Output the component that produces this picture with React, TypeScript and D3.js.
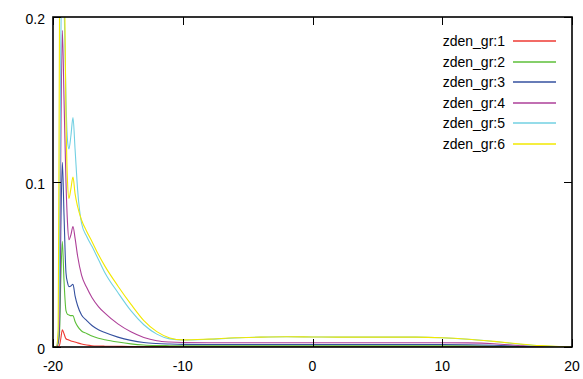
import * as d3 from 'd3';
import React, { useRef, useEffect } from 'react';

// shared z grid for every series
const zGrid = [-20, -19.75, -19.6, -19.5, -19.4, -19.28, -19.15, -19.0, -18.88, -18.77, -18.62, -18.46, -18.3, -18.1, -17.8, -17.4, -17.0, -16.5, -16, -15, -14, -13, -12, -11, -10, -8, -6, -4, -2, 0, 2, 4, 6, 8, 10, 12, 14, 16, 17, 18, 19, 20];

const gr1 = [0, 0, 0.0003, 0.001, 0.005, 0.0105, 0.008, 0.005, 0.0045, 0.0042, 0.0037, 0.0033, 0.003, 0.0025, 0.0018, 0.0012, 0.0008, 0.0006, 0.0005, 0.0004, 0.0003, 0.0003, 0.0003, 0.0003, 0.0003, 0.0003, 0.0003, 0.0003, 0.0003, 0.0003, 0.0003, 0.0003, 0.0003, 0.0003, 0.0003, 0.0003, 0.0002, 0.0001, 0.0001, 0, 0, 0];
const gr2 = [0, 0, 0.002, 0.008, 0.04, 0.064, 0.04, 0.022, 0.0198, 0.0194, 0.019, 0.019, 0.0155, 0.0125, 0.0097, 0.0082, 0.0066, 0.0053, 0.0044, 0.003, 0.0019, 0.0012, 0.0009, 0.0008, 0.0007, 0.0007, 0.0007, 0.0007, 0.0007, 0.0007, 0.0007, 0.0007, 0.0007, 0.0007, 0.0007, 0.0007, 0.0005, 0.0003, 0.0002, 0.0001, 0, 0];
const gr3 = [0, 0, 0.003, 0.012, 0.07, 0.112, 0.08, 0.045, 0.039, 0.0366, 0.037, 0.038, 0.031, 0.025, 0.0194, 0.016, 0.013, 0.0105, 0.0088, 0.006, 0.004, 0.0027, 0.0021, 0.0018, 0.0016, 0.0015, 0.0015, 0.0015, 0.0015, 0.0015, 0.0015, 0.0015, 0.0015, 0.0015, 0.0015, 0.0014, 0.0011, 0.0005, 0.0003, 0.0001, 0, 0];
const gr4 = [0, 0, 0.005, 0.02, 0.12, 0.192, 0.15, 0.1, 0.075, 0.065, 0.068, 0.073, 0.066, 0.055, 0.0436, 0.036, 0.03, 0.0245, 0.0205, 0.014, 0.0092, 0.0058, 0.0038, 0.003, 0.0027, 0.0026, 0.0026, 0.0026, 0.0026, 0.0026, 0.0026, 0.0026, 0.0026, 0.0026, 0.0026, 0.0025, 0.002, 0.0008, 0.0003, 0.0001, 0, 0];
const gr5 = [0, 0, 0.008, 0.05, 0.18, 0.23, 0.21, 0.15, 0.125, 0.12, 0.128, 0.139, 0.12, 0.095, 0.075, 0.067, 0.061, 0.053, 0.045, 0.033, 0.022, 0.0135, 0.0078, 0.0049, 0.0042, 0.0047, 0.0055, 0.006, 0.0062, 0.0061, 0.006, 0.006, 0.006, 0.006, 0.0056, 0.0047, 0.0033, 0.0017, 0.001, 0.0006, 0.0002, 0];
const gr6 = [0, 0, 0.01, 0.2, 0.35, 0.35, 0.25, 0.14, 0.1, 0.09, 0.096, 0.103, 0.093, 0.085, 0.077, 0.07, 0.064, 0.056, 0.049, 0.037, 0.026, 0.016, 0.0093, 0.0055, 0.0043, 0.0048, 0.0056, 0.006, 0.0062, 0.0061, 0.006, 0.006, 0.006, 0.006, 0.0056, 0.0047, 0.0034, 0.0018, 0.0011, 0.0007, 0.0003, 0];

const seriesNames = ["zden_gr:1", "zden_gr:2", "zden_gr:3", "zden_gr:4", "zden_gr:5", "zden_gr:6"];
const seriesValues = [gr1, gr2, gr3, gr4, gr5, gr6];
const colors = ["#ee3a33", "#5cbf38", "#34509f", "#ad3f98", "#72d0e2", "#f2e800"];

const xTicks = [-20, -10, 0, 10, 20];
const yTicks = [0, 0.1, 0.2];
const yTickLabels = ["0", "0.1", "0.2"];

function App(): any {
  const ref = useRef(null);
  const width = 583;
  const height = 379;
  const margin = { top: 17, right: 11, bottom: 32, left: 53 };

  useEffect(() => {
    const svg = d3.select(ref.current);
    svg.selectAll("*").remove();

    const xScale = d3.scaleLinear()
      .domain([-20, 20])
      .range([margin.left, width - margin.right]);
    const yScale = d3.scaleLinear()
      .domain([0, 0.2])
      .range([height - margin.bottom, margin.top]);

    const font = "'Liberation Sans', Arial, Helvetica, sans-serif";

    svg.append("defs").append("clipPath")
      .attr("id", "plotclip")
      .append("rect")
      .attr("x", margin.left)
      .attr("y", margin.top)
      .attr("width", width - margin.left - margin.right)
      .attr("height", height - margin.top - margin.bottom);

    const line = d3.line<number>()
      .x((d, i) => xScale(zGrid[i]))
      .y((d) => yScale(d))
      .curve(d3.curveMonotoneX);

    const plot = svg.append("g").attr("clip-path", "url(#plotclip)");
    seriesValues.forEach((vals, k) => {
      plot.append("path")
        .datum(vals)
        .attr("d", line)
        .attr("fill", "none")
        .attr("stroke", colors[k])
        .attr("stroke-width", 1.1);
    });

    // tick marks, mirrored like gnuplot
    const x0 = margin.left, x1 = width - margin.right;
    const y0 = height - margin.bottom, y1 = margin.top;
    const tl = 8;
    const ticks = svg.append("g").attr("stroke", "#000").attr("stroke-width", 1);
    xTicks.forEach((t) => {
      const x = Math.round(xScale(t)) + 0.5;
      ticks.append("line").attr("x1", x).attr("x2", x).attr("y1", y0).attr("y2", y0 - tl);
      ticks.append("line").attr("x1", x).attr("x2", x).attr("y1", y1).attr("y2", y1 + tl);
    });
    yTicks.forEach((t) => {
      const y = Math.round(yScale(t)) + 0.5;
      ticks.append("line").attr("x1", x0).attr("x2", x0 + tl).attr("y1", y).attr("y2", y);
      ticks.append("line").attr("x1", x1).attr("x2", x1 - tl).attr("y1", y).attr("y2", y);
    });

    svg.append("rect")
      .attr("x", x0)
      .attr("y", y1)
      .attr("width", x1 - x0)
      .attr("height", y0 - y1)
      .attr("fill", "none")
      .attr("stroke", "#000")
      .attr("stroke-width", 1.6);

    svg.append("g")
      .selectAll("text")
      .data(xTicks)
      .enter()
      .append("text")
      .attr("x", (d) => xScale(d))
      .attr("y", y0 + 24)
      .attr("text-anchor", "middle")
      .style("font-family", font)
      .style("font-size", "14px")
      .text((d) => String(d));

    svg.append("g")
      .selectAll("text")
      .data(yTicks)
      .enter()
      .append("text")
      .attr("x", x0 - 8)
      .attr("y", (d) => yScale(d) + 7)
      .attr("text-anchor", "end")
      .style("font-family", font)
      .style("font-size", "14px")
      .text((d, i) => yTickLabels[i]);

    const legend = svg.append("g");
    seriesNames.forEach((name, k) => {
      const ly = 41 + k * 20.5;
      legend.append("text")
        .attr("x", 505)
        .attr("y", ly + 5)
        .attr("text-anchor", "end")
        .style("font-family", font)
        .style("font-size", "14px")
        .text(name);
      legend.append("line")
        .attr("x1", 513)
        .attr("x2", 556)
        .attr("y1", Math.round(ly))
        .attr("y2", Math.round(ly))
        .attr("stroke", colors[k])
        .attr("stroke-width", 1.6);
    });
  }, []);

  return (
    <svg
      ref={ref}
      width={width}
      height={height}
      style={{ position: "absolute", left: 0, top: 0, background: "#fff" }}
    />
  );
}

export default App;
